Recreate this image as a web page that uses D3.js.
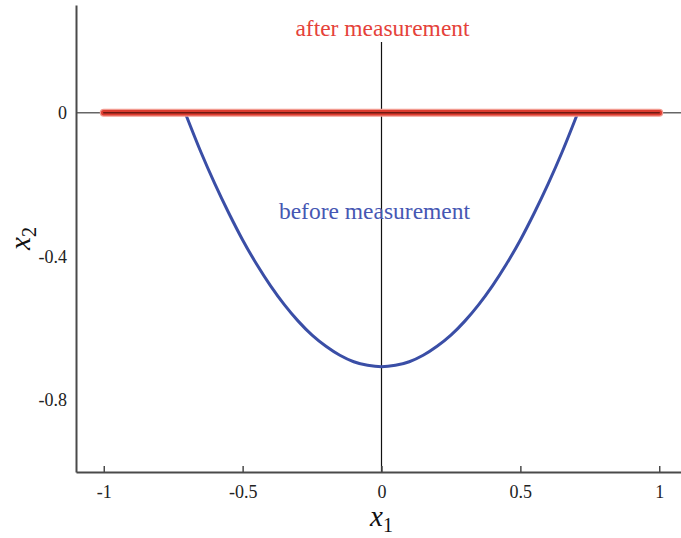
<!DOCTYPE html>
<html>
<head>
<meta charset="utf-8">
<script src="https://cdn.jsdelivr.net/npm/d3@7"></script>
<style>
  body { margin: 0; background: #fff; }
  svg { display: block; }
  text { font-family: "Liberation Serif", "DejaVu Serif", serif; }
</style>
</head>
<body>
<script>
// data
var xTicks = [-1, -0.5, 0, 0.5, 1];
var xTickLabels = ["-1", "-0.5", "0", "0.5", "1"];
var yTicks = [0, -0.4, -0.8];
var yTickLabels = ["0", "-0.4", "-0.8"];

// "before measurement" curve
var beforeX1 = [-0.707, -0.65, -0.6, -0.55, -0.5, -0.45, -0.4, -0.35, -0.3, -0.25, -0.2, -0.15, -0.1, -0.05, 0,
                0.05, 0.1, 0.15, 0.2, 0.25, 0.3, 0.35, 0.4, 0.45, 0.5, 0.55, 0.6, 0.65, 0.707];
var beforeX2 = [0, -0.11, -0.198, -0.279, -0.354, -0.421, -0.481, -0.534, -0.58, -0.619, -0.65, -0.675, -0.693, -0.703, -0.707,
                -0.703, -0.693, -0.675, -0.65, -0.619, -0.58, -0.534, -0.481, -0.421, -0.354, -0.279, -0.198, -0.11, 0];

// "after measurement" segment
var afterX1 = [-1, 1];
var afterX2 = [0, 0];

var W = 681, H = 538;

var svg = d3.select("body").append("svg")
    .attr("width", W)
    .attr("height", H);

var x = d3.scaleLinear().domain([-1.1, 1.1]).range([76, 687]);
var y = d3.scaleLinear().domain([-1, 0.3]).range([472, 5]);

var axisColor = "#4a4a4a";

// zero line across the plot
svg.append("line")
    .attr("x1", x(-1.1)).attr("x2", x(1.1))
    .attr("y1", y(0)).attr("y2", y(0))
    .attr("stroke", "#666").attr("stroke-width", 1.5);

// vertical line at x1 = 0
svg.append("line")
    .attr("x1", x(0)).attr("x2", x(0))
    .attr("y1", 42).attr("y2", y(-1))
    .attr("stroke", "#111").attr("stroke-width", 1.2);

// x axis (ticks pointing inward)
var xAxis = d3.axisBottom(x)
    .tickValues(xTicks)
    .tickFormat(function (d, i) { return xTickLabels[i]; })
    .tickSizeInner(-6)
    .tickSizeOuter(0)
    .tickPadding(13);

var gx = svg.append("g")
    .attr("transform", "translate(0," + y(-1) + ")")
    .call(xAxis);
gx.select(".domain").attr("stroke", axisColor).attr("stroke-width", 2);
gx.selectAll(".tick line").attr("stroke", axisColor).attr("stroke-width", 1.5);
gx.selectAll(".tick text")
    .attr("font-family", "Liberation Serif, serif")
    .attr("font-size", 18)
    .attr("fill", "#222");

// y axis
var yAxis = d3.axisLeft(y)
    .tickValues(yTicks)
    .tickFormat(function (d, i) { return yTickLabels[i]; })
    .tickSize(0)
    .tickPadding(9);

var gy = svg.append("g")
    .attr("transform", "translate(" + x(-1.1) + ",0)")
    .call(yAxis);
gy.select(".domain").attr("stroke", axisColor).attr("stroke-width", 2);
gy.selectAll(".tick text")
    .attr("font-family", "Liberation Serif, serif")
    .attr("font-size", 18)
    .attr("fill", "#222");

// before curve
var line = d3.line()
    .x(function (d) { return x(d[0]); })
    .y(function (d) { return y(d[1]); })
    .curve(d3.curveCatmullRom);

var before = beforeX1.map(function (v, i) { return [v, beforeX2[i]]; });
svg.append("path")
    .datum(before)
    .attr("d", line)
    .attr("fill", "none")
    .attr("stroke", "#3a4ea6")
    .attr("stroke-width", 3);

// after segment: halo, red body, dark core
var after = afterX1.map(function (v, i) { return [v, afterX2[i]]; });
var afterLine = d3.line()
    .x(function (d) { return x(d[0]); })
    .y(function (d) { return y(d[1]); });
[["#f29a90", 8], ["#dd3b2f", 5.5], ["#6e1a12", 1.6]].forEach(function (s) {
    svg.append("path")
        .datum(after)
        .attr("d", afterLine)
        .attr("fill", "none")
        .attr("stroke", s[0])
        .attr("stroke-width", s[1])
        .attr("stroke-linecap", "round");
});

// labels
svg.append("text")
    .attr("x", x(0) + 1).attr("y", 36)
    .attr("text-anchor", "middle")
    .attr("font-size", 23.5)
    .attr("fill", "#e5423a")
    .text("after measurement");

svg.append("text")
    .attr("x", x(0) - 7).attr("y", 219)
    .attr("text-anchor", "middle")
    .attr("font-size", 23.5)
    .attr("fill", "#4657b3")
    .text("before measurement");

// axis titles
var xt = svg.append("text")
    .attr("x", x(0)).attr("y", 526)
    .attr("text-anchor", "middle")
    .attr("fill", "#111");
xt.append("tspan").attr("font-style", "italic").attr("font-size", 29).text("x");
xt.append("tspan").attr("font-size", 20).attr("dy", 6).text("1");

var yt = svg.append("text")
    .attr("transform", "translate(30," + y(-0.35) + ") rotate(-90)")
    .attr("text-anchor", "middle")
    .attr("fill", "#111");
yt.append("tspan").attr("font-style", "italic").attr("font-size", 29).text("x");
yt.append("tspan").attr("font-size", 20).attr("dy", 6).text("2");
</script>
</body>
</html>
